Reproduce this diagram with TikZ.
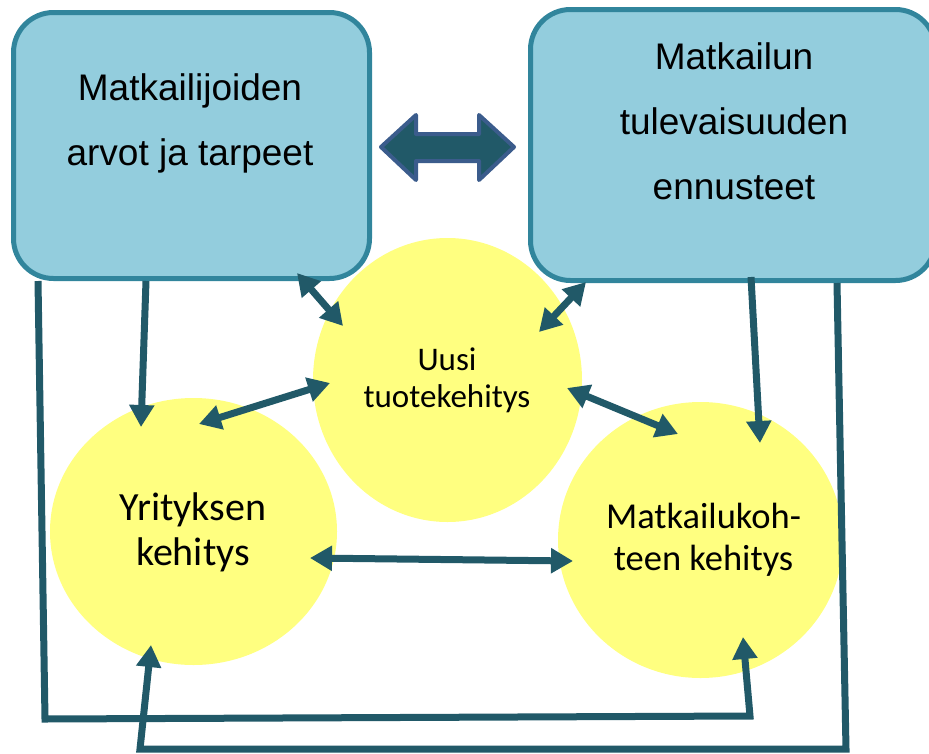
\documentclass[tikz,border=0pt]{standalone}
\usepackage{fontspec}
\setmainfont{Liberation Sans}
\newfontfamily\bubblefont{Carlito}
\usetikzlibrary{arrows.meta,shapes.geometric}

\definecolor{boxfill}{RGB}{147,205,221}
\definecolor{boxline}{RGB}{49,133,156}
\definecolor{bubble}{RGB}{255,255,128}
\definecolor{linkcol}{RGB}{33,89,104}
\definecolor{bigline}{RGB}{59,92,140}

\begin{document}
\begin{tikzpicture}[x=1pt,y=-1pt,
  infobox/.style={draw=boxline, line width=5pt, fill=boxfill,
    rounded corners=40pt, inner sep=0pt},
  bubblenode/.style={ellipse, fill=bubble, draw=none, inner sep=0pt},
  % multi-line texts are placed by the baseline of their last line
  boxtext/.style={font=\fontsize{37}{65}\selectfont, align=center, anchor=base, inner sep=0pt},
  bubbletext/.style={align=center, anchor=base, inner sep=0pt},
  oneway/.style={draw=linkcol, line width=7pt, -{Triangle[length=22pt,width=24pt]}},
  twoway/.style={draw=linkcol, line width=7pt, {Triangle[length=22pt,width=24pt]}-{Triangle[length=22pt,width=24pt]}},
  loopline/.style={draw=linkcol, line width=7pt, line join=miter, -{Triangle[length=22pt,width=24pt]}}
]
\useasboundingbox (0,0) rectangle (929,753);
\clip (0,0) rectangle (929,753);

% development bubbles
\node[bubblenode, minimum width=269pt, minimum height=284pt] (U) at (447.5,380) {};
\node[bubblenode, minimum width=287pt, minimum height=267pt] (Y) at (193.5,531.5) {};
\node[bubblenode, minimum width=285pt, minimum height=276pt] (M) at (700.5,540) {};

% source boxes
\node[infobox, minimum width=356pt, minimum height=266pt] (L) at (191.5,145.5) {};
\node[infobox, minimum width=405pt, minimum height=271pt] (R) at (733,145) {};

% box texts
\node[boxtext] (Lt) at (190,165) {Matkailijoiden\\arvot ja tarpeet};
\node[boxtext] (Rt) at (734,199) {Matkailun\\tulevaisuuden\\ennusteet};

% bubble texts
\node[bubbletext, font=\bubblefont\fontsize{33}{37}\selectfont] (Ut) at (447,407) {Uusi\\tuotekehitys};
\node[bubbletext, font=\bubblefont\fontsize{40}{45}\selectfont] (Yt) at (193,565) {Yrityksen\\kehitys};
\node[bubbletext, font=\bubblefont\fontsize{36.5}{42}\selectfont] (Mt) at (703.5,570) {Matkailukoh-\\teen kehitys};

% two-way block arrow between the boxes
\draw[fill=linkcol, draw=bigline, line width=4pt, line join=round]
  (381,147) -- (416,115) -- (416,134) -- (479,134) -- (479,115) -- (514,147)
  -- (479,180) -- (479,161) -- (416,161) -- (416,180) -- cycle;

% connectors
\draw[oneway] ([shift={(-45.5,135.5)}]L.center) -- ([shift={(-52.5,-104.5)}]Y.center);
\draw[twoway] ([shift={(105.5,127.5)}]L.center) -- ([shift={(-104.5,-54)}]U.center);
\draw[twoway] ([shift={(5.5,-107.5)}]Y.center) -- ([shift={(-117.5,3)}]U.center);
\draw[twoway] ([shift={(-147,137)}]R.center) -- ([shift={(91.5,-48)}]U.center);
\draw[twoway] ([shift={(119.5,8)}]U.center) -- ([shift={(-22.5,-106)}]M.center);
\draw[oneway] ([shift={(18,132)}]R.center) -- ([shift={(59.5,-97)}]M.center);
\draw[twoway] ([shift={(116.5,26.5)}]Y.center) -- ([shift={(-127.5,21)}]M.center);

% feedback loops along the bottom
\coordinate (la) at (45,719);
\coordinate (lb) at (750,716);
\draw[loopline] ([shift={(-153.5,135.5)}]L.center) -- (la) -- (lb) -- ([shift={(42.5,97)}]M.center);
\coordinate (ra) at (846,749);
\coordinate (rb) at (140,749);
\draw[loopline] ([shift={(104,138)}]R.center) -- (ra) -- (rb) -- ([shift={(-42.5,113.5)}]Y.center);
\end{tikzpicture}
\end{document}
